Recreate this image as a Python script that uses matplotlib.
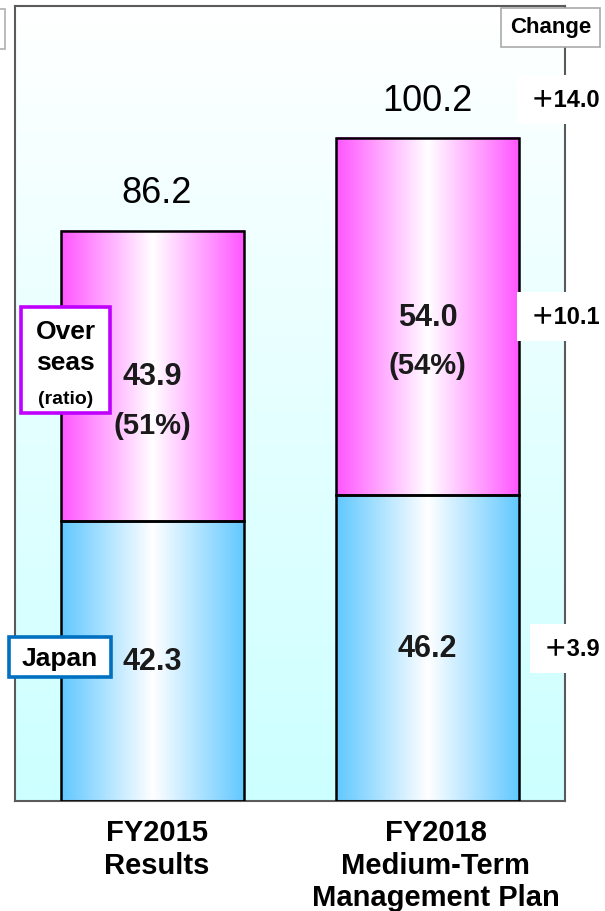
import numpy as np
import matplotlib
matplotlib.use("Agg")
import matplotlib.pyplot as plt
from matplotlib.patches import Rectangle
from matplotlib.colors import to_rgb

plt.rcParams["font.family"] = ["Liberation Sans", "Noto Sans CJK JP", "DejaVu Sans"]

# =============================================================================
# DATA
# =============================================================================
categories = ["FY2015\nResults", "FY2018\nMedium-Term\nManagement Plan"]
japan = [42.3, 46.2]
overseas = [43.9, 54.0]

totals = [j + o for j, o in zip(japan, overseas)]
ratios = [round(100 * o / t) for o, t in zip(overseas, totals)]
change_total = totals[1] - totals[0]
change_overseas = overseas[1] - overseas[0]
change_japan = japan[1] - japan[0]

# =============================================================================
# STYLE
# =============================================================================
W, H = 605, 912
magenta = "#ff55ff"
blue = "#60c8ff"
bar_w = 0.667
ymax = 120.2
txt = "#1a1a1a"


def fig_rect(x0, y0, x1, y1):
    """Pixel box (top-left origin) -> figure fraction rectangle."""
    return (x0 / W, 1 - y1 / H, (x1 - x0) / W, (y1 - y0) / H)


def add_fig_box(fig, box, ec, lw):
    r = fig_rect(*box)
    fig.patches.append(Rectangle(r[:2], *r[2:], transform=fig.transFigure,
                                 fc="white", ec=ec, lw=lw, zorder=10))


def gradient_bar(ax, x0, y0, w, h, color):
    g = np.abs(np.linspace(-1, 1, 256))[:, None]
    rgb = np.array(to_rgb(color))[None, :]
    img = (1 - g) * np.ones((1, 3)) + g * rgb
    ax.imshow(img[None, :, :], extent=(x0, x0 + w, y0, y0 + h),
              aspect="auto", interpolation="bicubic", zorder=2)
    ax.add_patch(Rectangle((x0, y0), w, h, fill=False, ec="black",
                           lw=1.8, zorder=3))


# =============================================================================
# FIGURE
# =============================================================================
fig = plt.figure(figsize=(W / 100, H / 100), dpi=100)
ax = fig.add_axes([15 / W, 110 / H, 550 / W, 795 / H])

# vertical background wash: white at the top, pale cyan at the bottom
bg = np.linspace(0, 1, 256)[:, None]
top, bot = np.array([1, 1, 1]), np.array(to_rgb("#ccffff"))
bg_img = (1 - bg)[:, :, None] * top + bg[:, :, None] * bot
ax.imshow(bg_img, extent=(-0.5, 1.5, 0, ymax), aspect="auto", zorder=0)

xs = np.arange(len(categories))
label_shift = [3.0, 6.0]
for i, x in enumerate(xs):
    gradient_bar(ax, x - bar_w / 2, 0, bar_w, japan[i], blue)
    gradient_bar(ax, x - bar_w / 2, japan[i], bar_w, overseas[i], magenta)

    # totals
    ax.annotate(f"{totals[i]:.1f}", (x, totals[i]), xytext=(3 if i == 0 else 0, 27.5),
                textcoords="offset points", ha="center", va="center",
                fontsize=26, color="black", zorder=5)
    # overseas value and ratio
    mid_o = japan[i] + overseas[i] / 2
    ax.text(x, mid_o, f"{overseas[i]:.1f}", ha="center", va="center",
            fontsize=22, fontweight="bold", color=txt, zorder=5)
    ax.annotate(f"({ratios[i]}%)", (x, mid_o), xytext=(0, -35),
                textcoords="offset points", ha="center", va="center",
                fontsize=21, fontweight="bold", color=txt, zorder=5)
    # japan value
    ax.text(x, japan[i] / 2, f"{japan[i]:.1f}", ha="center", va="center",
            fontsize=22, fontweight="bold", color=txt, zorder=5)
    # category label
    ax.annotate(categories[i], (x, 0), xytext=(label_shift[i], -12.5),
                textcoords="offset points", ha="center", va="top",
                fontsize=21, fontweight="bold", linespacing=1.2,
                annotation_clip=False)

# change column
x_chg = (600 - 153.5) / 274.5
changes = [
    (change_total, totals[1], 28.0),
    (change_overseas, japan[1] + overseas[1] / 2, 0.0),
    (change_japan, japan[1] / 2, 0.0),
]
for val, y, dy in changes:
    ax.annotate(f"＋{val:.1f}", (x_chg, y), xytext=(0, dy),
                textcoords="offset points", ha="right", va="center",
                fontsize=17, fontweight="bold", annotation_clip=False,
                bbox=dict(boxstyle="square,pad=0.55", fc="white", ec="none"),
                zorder=6)

ax.set_xlim(-0.5, 1.5)
ax.set_ylim(0, ymax)
ax.set_xticks([])
ax.set_yticks([])
for s in ax.spines.values():
    s.set_color("#5a5a5a")
    s.set_linewidth(1.5)

# legend tags
add_fig_box(fig, (21, 308, 110, 414), "#c000ff", 2.6)
fig.text(65.5 / W, 1 - 332 / H, "Over", ha="center", va="center",
         fontsize=19, fontweight="bold", zorder=11)
fig.text(65.5 / W, 1 - 363 / H, "seas", ha="center", va="center",
         fontsize=19, fontweight="bold", zorder=11)
fig.text(65.5 / W, 1 - 399 / H, "(ratio)", ha="center", va="center",
         fontsize=14, fontweight="bold", zorder=11)

add_fig_box(fig, (9, 638, 111, 678), "#0070c0", 2.6)
fig.text(60 / W, 1 - 659 / H, "Japan", ha="center", va="center",
         fontsize=19, fontweight="bold", zorder=11)

# header box for the change column
add_fig_box(fig, (501, 9, 600, 48), "#aaaaaa", 1.2)
fig.text(550.5 / W, 1 - 28 / H, "Change", ha="center", va="center",
         fontsize=16, fontweight="bold", zorder=11)

# clipped box at the left edge
add_fig_box(fig, (-10, 10, 5, 50), "#b0b0b0", 1.2)

fig.savefig("out.png", dpi=100)
